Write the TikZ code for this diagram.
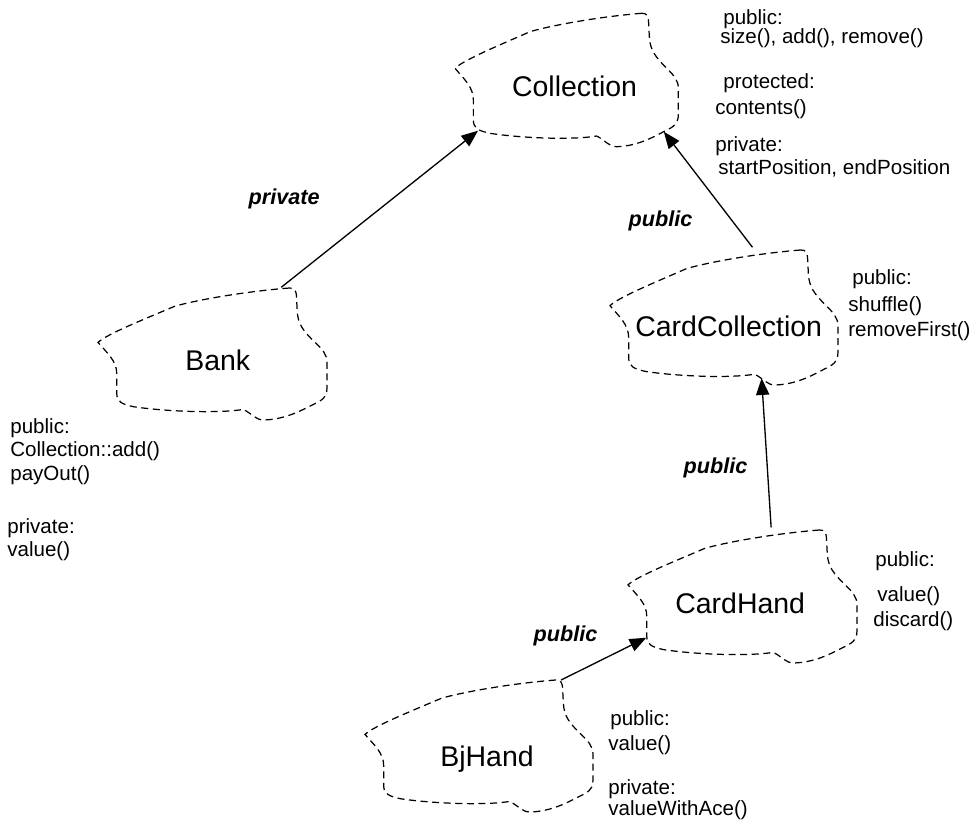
\documentclass[tikz,border=0pt]{standalone}
\usepackage{fontspec}
\setmainfont{Liberation Sans}
\usetikzlibrary{arrows.meta}

\tikzset{
  cloudline/.style={draw=black, line width=0.7pt, dash pattern=on 4pt off 2.6pt},
  inherit/.style={draw=black, line width=0.75pt, -{Triangle[length=9.5pt,width=7.5pt]}},
  classname/.style={anchor=base west, inner sep=0pt, font=\fontsize{16.2}{19}\selectfont},
  member/.style={anchor=base west, inner sep=0pt, font=\fontsize{11.7}{14}\selectfont},
  access/.style={anchor=base west, inner sep=0pt, font=\fontsize{12.3}{15}\selectfont\bfseries\itshape},
  % Booch class cloud, drawn in a unit box centred on the pic position
  pics/cloud/.style 2 args={code={
    \begin{scope}[xscale=#1, yscale=#2]
      \draw[cloudline] (0.336,-0.5)
        .. controls (0.149,-0.475) and (-0.060,-0.4125) .. (-0.164,-0.3625)
        .. controls (-0.299,-0.2625) and (-0.463,-0.15) .. (-0.5,-0.0875)
        .. controls (-0.463,-0.0125) and (-0.418,0.05) .. (-0.418,0.15)
        -- (-0.418,0.30)
        .. controls (-0.418,0.3625) and (-0.396,0.38) .. (-0.343,0.40)
        .. controls (-0.194,0.4375) and (0.030,0.45) .. (0.134,0.42)
        .. controls (0.172,0.45) and (0.187,0.5) .. (0.224,0.5)
        .. controls (0.328,0.495) and (0.403,0.4125) .. (0.463,0.3625)
        .. controls (0.496,0.33) and (0.5,0.30) .. (0.5,0.25)
        -- (0.5,0.0625)
        .. controls (0.5,0) and (0.478,-0.0375) .. (0.448,-0.0875)
        .. controls (0.396,-0.175) and (0.373,-0.225) .. (0.370,-0.325)
        -- (0.367,-0.425)
        .. controls (0.366,-0.4875) and (0.358,-0.5) .. (0.336,-0.5)
        -- cycle;
      \coordinate (-tr)  at (0.36,-0.5);
      \coordinate (-ne)  at (0.30,-0.505);
      \coordinate (-top) at (0.125,-0.52);
      \coordinate (-bl)  at (-0.397,0.38);
      \coordinate (-br)  at (0.435,0.388);
      \coordinate (-bot) at (0.165,0.45);
      \coordinate (-w)   at (-0.42,0.31);
    \end{scope}
  }}
}

\begin{document}
\begin{tikzpicture}[x=0.02cm, y=-0.02cm]
  \useasboundingbox (0,0) rectangle (973,827);

  % class clouds
  \pic (collc)     at (566.7,80)    {cloud={223.3}{133.4}};
  \pic (bankc)     at (212.5,354)   {cloud={229}{132}};
  \pic (cardcollc) at (724,317.5)   {cloud={228}{135}};
  \pic (cardhandc) at (742.5,596.5) {cloud={229}{133}};
  \pic (bjhandc)   at (479,746)     {cloud={228}{132}};

  % class names
  \node[classname] (collection) at (511.7,96.7) {Collection};
  \node[classname] (bank)       at (185,370)    {Bank};
  \node[classname] (cardcoll)   at (635,336.7)  {CardCollection};
  \node[classname] (cardhand)   at (675,613.3)  {CardHand};
  \node[classname] (bjhand)     at (440,766.7)  {BjHand};

  % inheritance arrows
  \draw[inherit] (bankc-ne)      -- (collc-bl);
  \draw[inherit] (cardcollc-top) -- (collc-br);
  \draw[inherit] (cardhandc-top) -- (cardcollc-bot);
  \draw[inherit] (bjhandc-tr)    -- (cardhandc-w);

  % inheritance access
  \node[access] (acc1) at (248.3,205)   {private};
  \node[access] (acc2) at (628.3,226.7) {public};
  \node[access] (acc3) at (683.3,473.3) {public};
  \node[access] (acc4) at (533.3,641.7) {public};

  % Collection members
  \node[member] (c1) at (723,25)    {public:};
  \node[member] (c2) at (720,43.3)  {size(), add(), remove()};
  \node[member] (c3) at (723,88.3)  {protected:};
  \node[member] (c4) at (715,115)   {contents()};
  \node[member] (c5) at (715,151.7) {private:};
  \node[member] (c6) at (718,175)   {startPosition, endPosition};

  % CardCollection members
  \node[member] (cc1) at (852,285)   {public:};
  \node[member] (cc2) at (848,311.7) {shuffle()};
  \node[member] (cc3) at (848,336.7) {removeFirst()};

  % CardHand members
  \node[member] (ch1) at (875,566.7) {public:};
  \node[member] (ch2) at (877,601.7) {value()};
  \node[member] (ch3) at (873,626.7) {discard()};

  % BjHand members
  \node[member] (bj1) at (610,725) {public:};
  \node[member] (bj2) at (608,750) {value()};
  \node[member] (bj3) at (608,794) {private:};
  \node[member] (bj4) at (608,815) {valueWithAce()};

  % Bank members
  \node[member] (b1) at (10,433.3)  {public:};
  \node[member] (b2) at (10,456.7)  {Collection::add()};
  \node[member] (b3) at (10,480)    {payOut()};
  \node[member] (b4) at (7,533.3)   {private:};
  \node[member] (b5) at (7,556.7)   {value()};
\end{tikzpicture}
\end{document}
